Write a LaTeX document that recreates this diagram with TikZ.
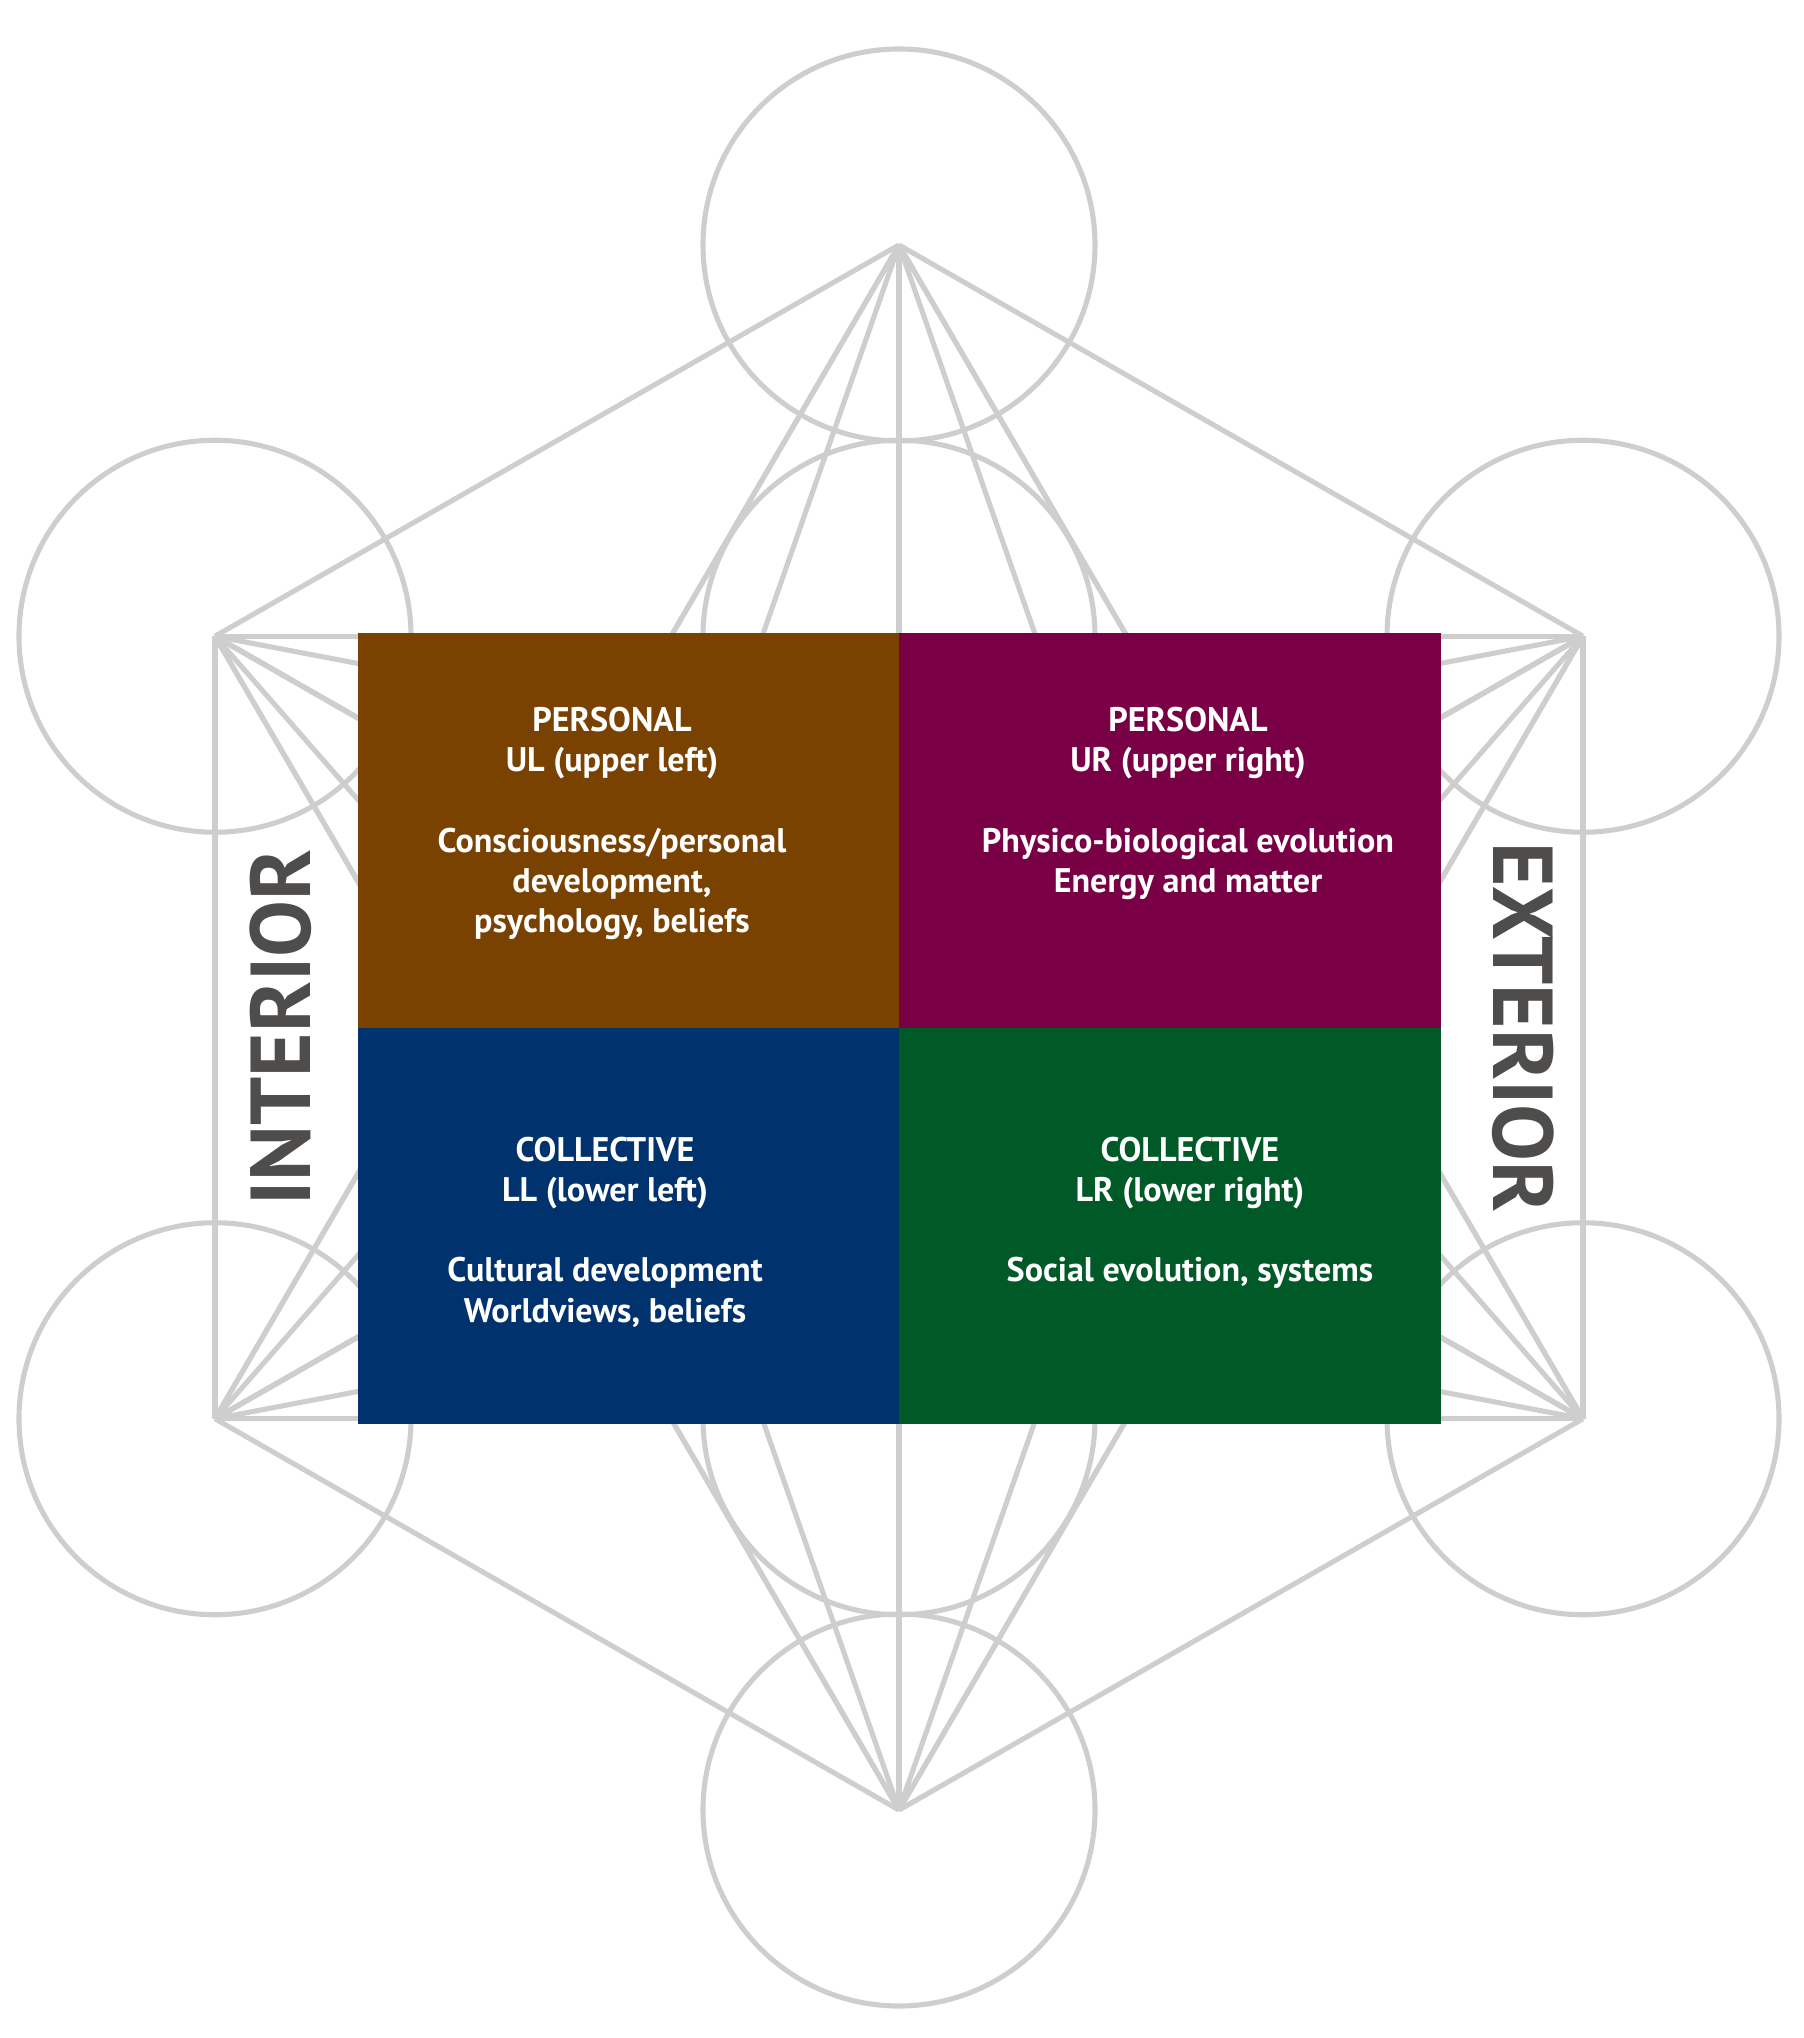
\documentclass[tikz,border=0pt]{standalone}
\usepackage{fontspec}
\setmainfont{PT Sans}
\usetikzlibrary{positioning,calc}
\definecolor{sacredline}{RGB}{206,206,206}
\definecolor{ulbrown}{RGB}{122,66,0}
\definecolor{urmaroon}{RGB}{122,0,69}
\definecolor{llnavy}{RGB}{0,51,110}
\definecolor{lrgreen}{RGB}{0,90,40}
\definecolor{axislabel}{RGB}{78,77,76}

\tikzset{
  geo/.style={draw=sacredline, line width=1.45pt},
  quadtext/.style={text=white, font=\bfseries\fontsize{9.7}{11.45}\selectfont, align=center, anchor=north, inner sep=0pt},
  sidelabel/.style={text=axislabel, font=\bfseries\fontsize{24.2}{28}\selectfont, inner sep=0pt}
}

\begin{document}
\begin{tikzpicture}
    \useasboundingbox (-8.99,-10.105) rectangle (9.04,10.275);
    % centres of the 13 circles
    \coordinate (c0) at (0,0);
    \coordinate (c1) at (0,7.825);
    \coordinate (c2) at (6.84,3.9125);
    \coordinate (c3) at (6.84,-3.9125);
    \coordinate (c4) at (0,-7.825);
    \coordinate (c5) at (-6.84,-3.9125);
    \coordinate (c6) at (-6.84,3.9125);
    \coordinate (c7) at (0,3.9125);
    \coordinate (c8) at (3.42,1.956);
    \coordinate (c9) at (3.42,-1.956);
    \coordinate (c10) at (0,-3.9125);
    \coordinate (c11) at (-3.42,-1.956);
    \coordinate (c12) at (-3.42,1.956);
    \foreach \i in {0,...,12}
        \draw[geo] (c\i) circle (1.96);
    \foreach \i in {0,...,11}{
        \pgfmathtruncatemacro{\nxt}{\i+1}
        \foreach \j in {\nxt,...,12}
            \draw[geo] (c\i) -- (c\j);
    }
    % quadrants
    \fill[ulbrown] (-5.41,0) rectangle (0,3.945);
    \fill[urmaroon] (0,0) rectangle (5.42,3.945);
    \fill[llnavy] (-5.41,-3.965) rectangle (0,0);
    \fill[lrgreen] (0,-3.965) rectangle (5.42,0);
    \node[quadtext] (ul) at (-2.87,3.21) {PERSONAL\\UL (upper left)\\[11.45pt]Consciousness/personal\\development,\\psychology, beliefs};
    \node[quadtext] (ur) at (2.89,3.21) {PERSONAL\\UR (upper right)\\[11.45pt]Physico-biological evolution\\Energy and matter};
    \node[quadtext] (ll) at (-2.94,-1.085) {COLLECTIVE\\LL (lower left)\\[11.45pt]Cultural development\\Worldviews, beliefs};
    \node[quadtext] (lr) at (2.91,-1.085) {COLLECTIVE\\LR (lower right)\\[11.45pt]Social evolution, systems};
    \node[sidelabel, rotate=90] (interior) at (-6.18,0) {INTERIOR};
    \node[sidelabel, rotate=-90] (exterior) at (6.245,0) {EXTERIOR};
\end{tikzpicture}
\end{document}
